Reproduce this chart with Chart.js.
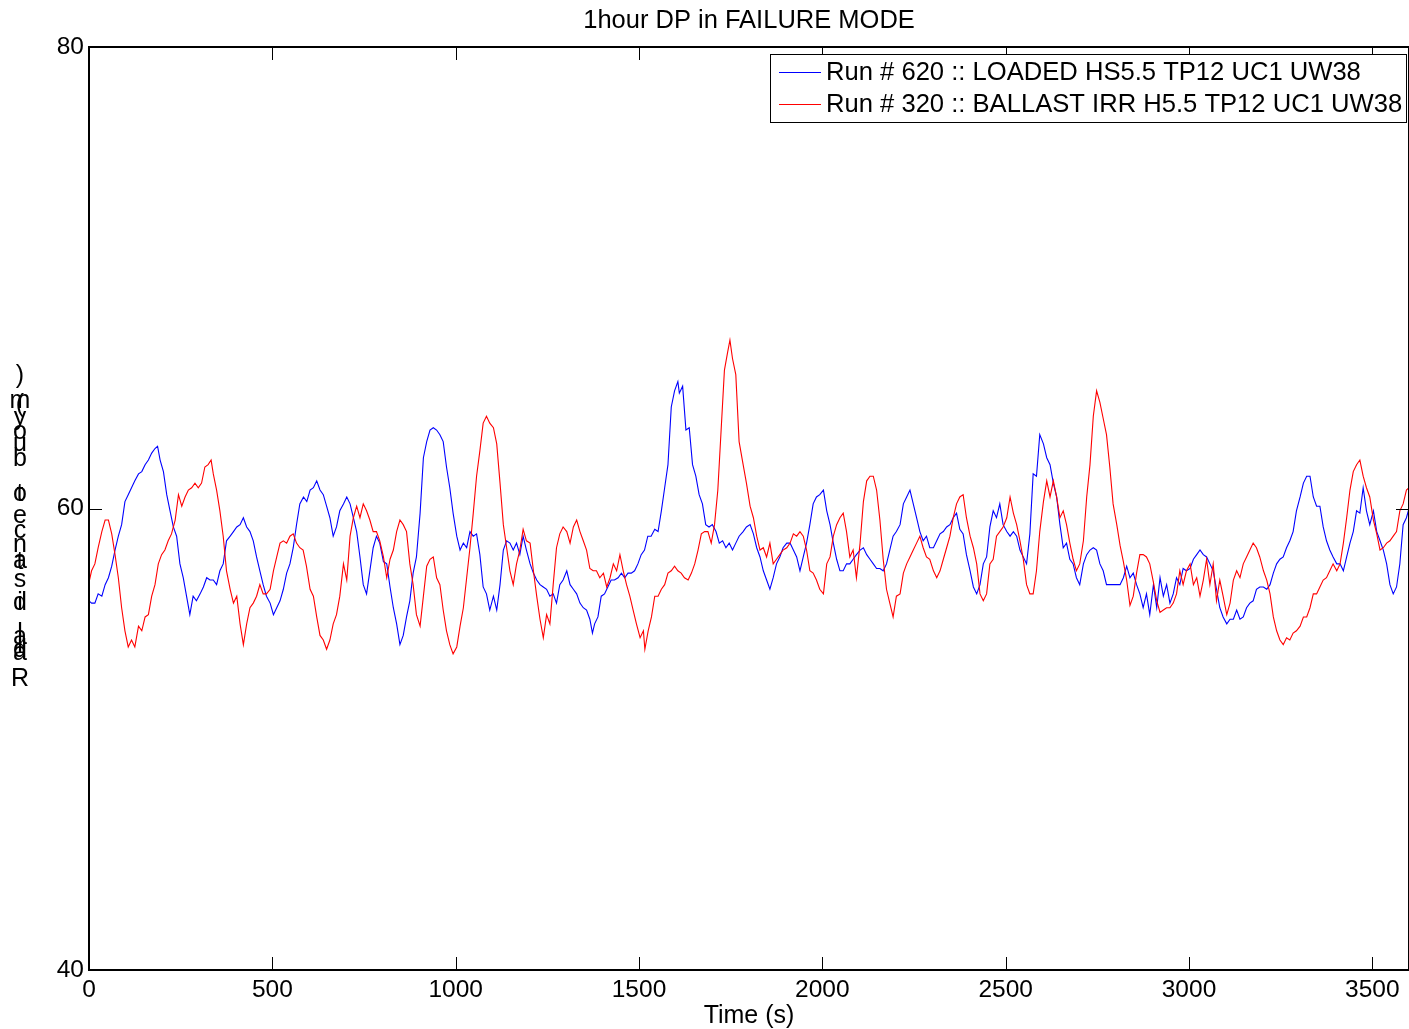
<!DOCTYPE html>
<html>
<head>
<meta charset="utf-8">
<title>1hour DP in FAILURE MODE</title>
<script src="https://cdn.jsdelivr.net/npm/chart.js@4/dist/chart.umd.min.js"></script>
<style>
  html, body { margin: 0; padding: 0; background: #ffffff; overflow: hidden; }
  #wrap { width: 1410px; height: 1029px; }
</style>
</head>
<body>
<div id="wrap"><canvas id="c" width="1410" height="1029"></canvas></div>
<script>
// ---- texts ----
const chartTitle = '1hour DP in FAILURE MODE';
const xTitle = 'Time (s)';
const yTitle = 'Radial distance to buoy (m)';
const seriesNames = [
  'Run # 620 :: LOADED HS5.5 TP12 UC1 UW38',
  'Run # 320 :: BALLAST IRR H5.5 TP12 UC1 UW38'
];

// ---- tick labels ----
const xTicks = [0, 500, 1000, 1500, 2000, 2500, 3000, 3500];
const yTicks = [40, 60, 80];

// ---- series 1: Run # 620 (time in s, range in m) ----
const timeBlue = [
  0,7,16,25,35,44,53,62,71,80,89,98,107,116,125,135,144,153,162,171,180,187,194,203,212,221,230,239,248,257,266,275,284,293,303,312,321,330,339,348,357,366,375,385,394,403,412,421,430,439,448,457,466,475,484,494,503,512,521,530,539,548,557,566,575,585,594,
  603,612,621,630,639,648,657,666,675,684,694,703,712,721,730,739,748,757,766,775,784,793,803,812,821,830,839,848,857,866,875,884,893,903,912,921,930,939,948,957,966,975,984,993,1003,1012,1021,1030,1039,1048,1057,1066,1075,1084,1093,1103,1112,1121,1130,1139,1148,1157,1166,
  1175,1184,1193,1203,1212,1221,1230,1239,1248,1257,1266,1275,1284,1293,1303,1312,1321,1330,1339,1348,1357,1366,1373,1379,1388,1397,1406,1415,1424,1433,1443,1452,1461,1470,1479,1488,1497,1506,1515,1524,1533,1543,1552,1561,1570,1579,1588,1597,1606,1610,1619,1628,1637,1646,1655,1664,1673,1682,1691,1700,1710,1719,1728,1737,1746,1755,1764,1773,
  1784,1793,1803,1812,1821,1830,1839,1848,1857,1866,1875,1884,1893,1903,1912,1921,1930,1939,1948,1957,1966,1975,1984,1993,2003,2012,2021,2030,2039,2048,2057,2066,2075,2084,2093,2103,2112,2121,2130,2139,2148,2157,2166,2175,2184,2193,2202,2212,2221,2230,2239,2248,2257,2266,2275,2284,2293,2303,2312,2321,2330,2339,2348,2357,2366,
  2375,2384,2393,2403,2412,2421,2430,2439,2448,2457,2466,2475,2484,2493,2503,2512,2521,2530,2539,2548,2557,2566,2575,2584,2593,2603,2612,2621,2630,2639,2648,2657,2666,2675,2684,2693,2702,2712,2721,2730,2739,2748,2757,2766,2775,2784,2793,2803,2812,2821,2830,2839,2848,2857,2866,2875,2884,2893,2903,2912,2921,2930,2939,2948,2957,2966,
  2975,2984,2993,3003,3012,3021,3030,3039,3048,3057,3066,3075,3084,3093,3103,3112,3121,3130,3139,3148,3157,3166,3175,3184,3193,3203,3212,3221,3230,3239,3248,3257,3266,3275,3284,3293,3303,3312,3321,3330,3339,3348,3357,3366,3375,3384,3393,3403,3412,3421,3430,3439,3448,3457,3466,3475,3484,3493,3503,3512,3521,3530,3539,3548,3557,3566,3575,3584,3593,3600
];
const rangeBlue = [
  56.0,55.9,55.9,56.3,56.2,56.7,57.0,57.5,58.2,58.8,59.3,60.3,60.6,60.9,61.2,61.5,61.6,61.9,62.1,62.4,62.6,62.7,62.1,61.6,60.6,59.9,59.2,58.8,57.6,57.0,56.2,55.4,56.2,56.0,56.3,56.6,57.0,56.9,56.9,56.7,57.3,57.6,58.6,58.8,59.0,59.2,59.3,59.6,59.2,59.0,58.6,57.9,57.3,56.7,56.2,55.9,55.4,55.7,56.0,56.5,57.2,57.6,58.3,59.3,60.2,60.5,60.3,
  60.8,60.9,61.2,60.8,60.6,60.1,59.6,58.8,59.2,59.9,60.2,60.5,60.2,59.6,59.0,57.9,56.7,56.3,57.3,58.3,58.8,58.5,57.7,57.6,56.6,55.7,55.0,54.1,54.5,55.3,56.0,57.2,57.9,59.8,62.2,62.9,63.4,63.5,63.4,63.2,62.9,61.8,60.9,59.8,58.8,58.2,58.5,58.3,59.0,58.8,58.9,58.0,56.6,56.3,55.6,56.2,55.6,56.7,58.2,58.6,58.5,58.2,58.5,
  58.0,58.8,58.2,57.6,57.2,56.9,56.7,56.6,56.5,56.2,56.3,55.9,56.7,56.9,57.3,56.7,56.5,56.3,55.9,55.7,55.6,55.2,54.6,55.0,55.3,56.2,56.3,56.6,56.9,56.9,57.0,57.2,57.0,57.2,57.2,57.3,57.6,58.0,58.2,58.8,58.8,59.1,59.0,59.9,60.9,61.9,64.4,65.1,65.5,65.0,65.3,63.4,63.5,61.9,61.4,60.6,60.2,59.3,59.2,59.3,59.0,58.5,58.6,58.3,58.5,58.2,58.5,58.8,
  59.0,59.2,59.3,58.9,58.3,57.9,57.3,56.9,56.5,57.0,57.6,57.9,58.3,58.5,58.5,58.2,57.9,57.3,57.9,58.5,59.3,60.2,60.5,60.6,60.8,59.9,59.3,58.5,57.8,57.3,57.3,57.6,57.6,57.8,58.0,58.2,58.3,58.0,57.8,57.6,57.4,57.4,57.3,57.6,58.2,58.8,59.0,59.3,60.2,60.5,60.8,60.2,59.6,59.0,58.6,58.8,58.3,58.3,58.6,58.9,59.0,59.2,59.3,59.6,59.8,
  59.1,58.9,58.0,57.3,56.6,56.3,56.7,57.6,57.9,59.2,59.9,59.6,60.2,59.3,59.0,58.8,59.0,58.8,58.2,57.9,57.6,58.9,61.5,61.4,63.2,62.8,62.2,61.9,61.1,60.5,59.3,58.3,58.5,57.8,57.6,57.0,56.7,57.6,58.0,58.2,58.3,58.2,57.6,57.3,56.7,56.7,56.7,56.7,56.7,57.0,57.5,57.0,57.2,56.7,56.3,55.7,56.3,55.4,56.7,55.7,57.0,56.2,56.7,55.9,56.3,57.0,
  56.7,57.4,57.3,57.4,57.8,58.0,58.2,58.0,57.9,57.6,57.3,56.5,55.7,55.3,55.0,55.2,55.2,55.6,55.2,55.3,55.7,55.9,56.0,56.5,56.6,56.6,56.5,56.7,57.2,57.6,57.8,57.9,58.3,58.6,59.0,59.9,60.5,61.1,61.4,61.4,60.5,60.1,60.1,59.2,58.6,58.2,57.9,57.6,57.6,57.3,57.9,58.5,59.0,59.9,59.8,60.9,59.9,59.3,59.9,59.0,58.6,58.2,57.6,56.7,56.3,56.6,57.6,59.3,59.6,60.0
];

// ---- series 2: Run # 320 (time in s, range in m) ----
const timeRed = [
  0,7,16,25,35,44,53,62,71,80,89,98,107,116,125,135,144,153,162,171,180,189,198,207,216,225,235,244,253,262,271,280,289,298,307,316,325,333,339,348,357,366,375,385,394,403,412,421,430,439,448,457,466,475,484,494,503,512,521,530,539,548,557,566,
  575,584,593,603,612,621,630,639,648,657,666,675,684,694,703,712,721,730,739,748,757,766,775,784,793,803,812,821,830,839,848,857,866,875,884,893,903,912,921,930,939,948,957,966,975,984,993,1003,1012,1021,1030,1039,1048,1057,1066,1075,1084,1093,1103,1112,1121,1130,1139,1148,1157,1166,
  1175,1184,1193,1203,1212,1221,1230,1239,1248,1257,1266,1275,1284,1293,1303,1312,1321,1330,1339,1348,1357,1366,1375,1384,1393,1403,1412,1421,1430,1439,1448,1457,1466,1475,1484,1493,1503,1512,1516,1525,1534,1543,1552,1561,1570,1579,1588,1597,1606,1615,1624,1634,1643,1652,1661,1670,1679,1688,1697,1706,1715,1724,1733,1742,1748,1755,1764,1773,
  1784,1793,1803,1812,1821,1830,1839,1848,1857,1866,1875,1884,1893,1903,1912,1921,1930,1939,1948,1957,1966,1975,1984,1993,2003,2012,2021,2030,2039,2048,2057,2066,2075,2084,2093,2103,2112,2121,2130,2139,2148,2157,2166,2175,2184,2193,2202,2212,2221,2230,2239,2248,2257,2266,2275,2284,2293,2303,2312,2321,2330,2339,2348,2357,2366,
  2375,2384,2393,2403,2412,2421,2430,2439,2448,2457,2466,2475,2484,2493,2503,2512,2521,2530,2539,2548,2557,2566,2575,2584,2593,2603,2612,2621,2630,2639,2648,2657,2666,2675,2684,2693,2702,2712,2721,2730,2739,2748,2757,2766,2775,2784,2793,2803,2812,2821,2830,2839,2848,2857,2866,2875,2884,2893,2903,2912,2921,2930,2939,2948,2957,2966,
  2975,2984,2993,3003,3012,3021,3030,3039,3048,3057,3066,3075,3084,3093,3103,3112,3121,3130,3139,3148,3157,3166,3175,3184,3193,3203,3212,3221,3230,3239,3248,3257,3266,3275,3284,3293,3303,3312,3321,3330,3339,3348,3357,3366,3375,3384,3393,3403,3412,3421,3430,3439,3448,3457,3466,3475,3484,3493,3503,3512,3521,3530,3539,3548,3557,3566,3575,3584,3593,3600
];
const rangeRed = [
  56.8,57.3,57.6,58.3,59.0,59.5,59.5,58.9,58.0,57.0,55.7,54.7,54.0,54.3,54.0,54.9,54.7,55.3,55.4,56.2,56.7,57.6,58.0,58.2,58.6,58.9,59.5,60.6,60.1,60.5,60.8,60.9,61.1,60.9,61.1,61.8,61.9,62.1,61.5,60.8,59.9,58.8,57.3,56.5,55.9,56.2,55.0,54.1,55.0,55.7,55.9,56.2,56.7,56.3,56.3,56.5,57.3,57.9,58.5,58.6,58.5,58.8,58.9,58.5,
  58.3,58.2,57.5,56.5,56.2,55.3,54.5,54.3,53.9,54.3,55.0,55.4,56.2,57.6,56.9,58.8,59.6,60.1,59.6,60.2,59.9,59.5,59.0,59.0,58.6,57.9,57.0,57.8,58.2,59.0,59.5,59.3,59.0,57.6,56.7,55.4,54.9,56.2,57.5,57.8,57.9,57.0,56.7,55.6,54.7,54.1,53.7,54.0,54.9,55.7,57.0,58.3,59.8,61.4,62.5,63.7,64.0,63.7,63.5,62.8,61.1,59.3,58.3,57.3,56.7,57.6,
  58.2,59.1,58.6,58.5,57.3,56.2,55.2,54.4,55.4,55.0,56.7,58.3,58.9,59.2,59.0,58.5,59.2,59.5,59.0,58.6,58.2,57.4,57.3,57.3,57.0,57.2,56.6,57.0,57.6,57.3,58.0,57.3,56.7,56.2,55.6,55.0,54.4,54.7,53.9,54.7,55.3,56.2,56.2,56.5,56.7,57.2,57.3,57.5,57.3,57.2,57.0,56.9,57.2,57.6,58.2,58.9,59.0,59.0,58.5,59.3,60.8,63.4,66.0,66.8,67.3,66.5,65.8,62.9,
  61.9,61.1,60.1,59.6,58.8,58.2,58.3,57.9,58.5,57.6,57.8,58.0,58.2,58.3,58.5,58.9,58.8,59.0,58.8,58.2,57.3,57.2,56.9,56.5,56.3,57.6,57.9,58.8,59.3,59.6,59.8,59.0,57.9,58.2,57.0,58.5,60.3,61.2,61.4,61.4,60.8,59.5,57.8,56.5,55.9,55.3,56.2,56.3,57.2,57.6,57.9,58.2,58.5,58.8,58.3,57.9,57.8,57.3,57.0,57.3,57.8,58.3,58.8,59.6,60.2,
  60.5,60.6,59.6,58.8,58.3,57.6,56.3,56.0,56.3,57.6,57.8,58.8,59.0,59.2,59.6,60.5,59.8,59.3,58.6,57.8,56.7,56.3,56.3,57.3,59.0,60.3,61.2,60.5,61.2,60.5,59.6,59.9,59.3,58.5,57.8,57.3,57.6,58.6,60.5,61.9,64.0,65.1,64.6,63.9,63.2,61.8,60.2,59.3,58.4,57.7,56.9,55.8,56.2,57.2,58.0,58.0,57.9,57.6,56.8,56.0,55.5,55.6,55.7,55.7,55.9,56.3,
  57.3,56.7,57.3,57.6,56.7,57.0,56.2,56.9,57.8,56.7,57.6,56.0,56.9,56.2,55.4,55.9,56.9,57.3,57.0,57.6,57.9,58.2,58.5,58.3,57.9,57.3,56.9,56.3,55.3,54.7,54.3,54.1,54.4,54.3,54.6,54.7,54.9,55.3,55.3,55.7,56.3,56.3,56.6,56.9,57.0,57.3,57.6,57.3,57.6,58.5,59.6,60.8,61.6,61.9,62.1,61.4,60.9,60.5,59.5,58.9,58.2,58.3,58.5,58.6,58.8,59.0,59.9,60.2,60.8,60.9
];

const FONT = 'Liberation Sans, Arial, Helvetica, sans-serif';
const toPoints = (ts, vs) => ts.map((t, i) => ({ x: t, y: vs[i] }));

// Axes box, inward tick marks, titles, stacked y label and the boxed legend
const axesDecor = {
  id: 'axesDecor',
  afterDraw(chart) {
    const { ctx, chartArea: a, scales } = chart;
    const xs = scales.x, ys = scales.y;
    const tl = 13;
    ctx.save();

    // tick marks (inside the box, on all four sides)
    ctx.strokeStyle = '#000';
    ctx.lineWidth = 1;
    ctx.beginPath();
    xTicks.forEach(v => {
      const px = Math.round(xs.getPixelForValue(v)) + 0.5;
      ctx.moveTo(px, a.bottom); ctx.lineTo(px, a.bottom - tl);
      ctx.moveTo(px, a.top); ctx.lineTo(px, a.top + tl);
    });
    yTicks.forEach(v => {
      const py = Math.round(ys.getPixelForValue(v)) + 0.5;
      ctx.moveTo(a.left, py); ctx.lineTo(a.left + tl, py);
      ctx.moveTo(a.right, py); ctx.lineTo(a.right - tl, py);
    });
    ctx.stroke();

    // axes box
    ctx.lineWidth = 2;
    ctx.strokeRect(a.left, a.top, a.right - a.left, a.bottom - a.top);

    // title and x-axis title
    ctx.fillStyle = '#000';
    ctx.textAlign = 'center';
    ctx.textBaseline = 'alphabetic';
    const cx = (a.left + a.right) / 2;
    ctx.font = '25.5px ' + FONT;
    ctx.fillText(chartTitle, cx, 28);
    ctx.font = '25px ' + FONT;
    ctx.fillText(xTitle, cx, 1023);

    // y-axis title: glyphs stacked upright along the left margin
    const glyphY = [679, 653, 650, 646, 637, 634, null, 603, 603, 580, 562, 561, 545, 531, 516, null, 494, 494, null, 459, 444, 432, 418, null, 405, 401, 376];
    ctx.font = '25px ' + FONT;
    ctx.textBaseline = 'middle';
    [...yTitle].forEach((ch, i) => {
      if (ch === ' ' || glyphY[i] == null) return;
      ctx.fillText(ch, 20, glyphY[i]);
    });

    // legend box
    const L = { left: 770, top: 54, right: 1406, bottom: 122 };
    ctx.fillStyle = '#fff';
    ctx.fillRect(L.left, L.top, L.right - L.left, L.bottom - L.top);
    ctx.lineWidth = 1;
    ctx.strokeStyle = '#000';
    ctx.strokeRect(L.left + 0.5, L.top + 0.5, L.right - L.left, L.bottom - L.top);
    ctx.font = '25.6px ' + FONT;
    ctx.textAlign = 'left';
    ctx.textBaseline = 'middle';
    const rows = [72, 104];
    chart.data.datasets.forEach((ds, i) => {
      ctx.strokeStyle = ds.borderColor;
      ctx.beginPath();
      ctx.moveTo(779, rows[i] + 0.5); ctx.lineTo(821, rows[i] + 0.5);
      ctx.stroke();
      ctx.fillStyle = '#000';
      ctx.fillText(ds.label, 826, rows[i] + 1);
    });
    ctx.restore();
  }
};

new Chart(document.getElementById('c'), {
  type: 'line',
  data: {
    datasets: [
      { label: seriesNames[0], data: toPoints(timeBlue, rangeBlue), borderColor: '#0000ff',
        borderWidth: 1.1, pointRadius: 0, tension: 0, order: 2 },
      { label: seriesNames[1], data: toPoints(timeRed, rangeRed), borderColor: '#ff0000',
        borderWidth: 1.1, pointRadius: 0, tension: 0, order: 1 }
    ]
  },
  options: {
    responsive: false,
    animation: false,
    devicePixelRatio: 1,
    layout: { padding: { top: 47, right: 1, left: 0, bottom: 0 } },
    plugins: { legend: { display: false }, title: { display: false }, tooltip: { enabled: false } },
    scales: {
      x: {
        type: 'linear', min: 0, max: 3600,
        afterFit(s) { s.height = 59; },
        afterBuildTicks(s) { s.ticks = xTicks.map(v => ({ value: v })); },
        grid: { display: false, drawTicks: false, tickLength: 0 },
        border: { display: false },
        ticks: { autoSkip: false, maxRotation: 0, color: '#000', padding: 6,
                 font: { family: FONT, size: 24.5 }, callback: v => String(v) }
      },
      y: {
        type: 'linear', min: 40, max: 80,
        afterFit(s) { s.width = 89; },
        afterBuildTicks(s) { s.ticks = yTicks.map(v => ({ value: v })); },
        grid: { display: false, drawTicks: false, tickLength: 0 },
        border: { display: false },
        ticks: { color: '#000', padding: 5, font: { family: FONT, size: 24.5 }, callback: v => String(v) }
      }
    }
  },
  plugins: [axesDecor]
});
</script>
</body>
</html>
